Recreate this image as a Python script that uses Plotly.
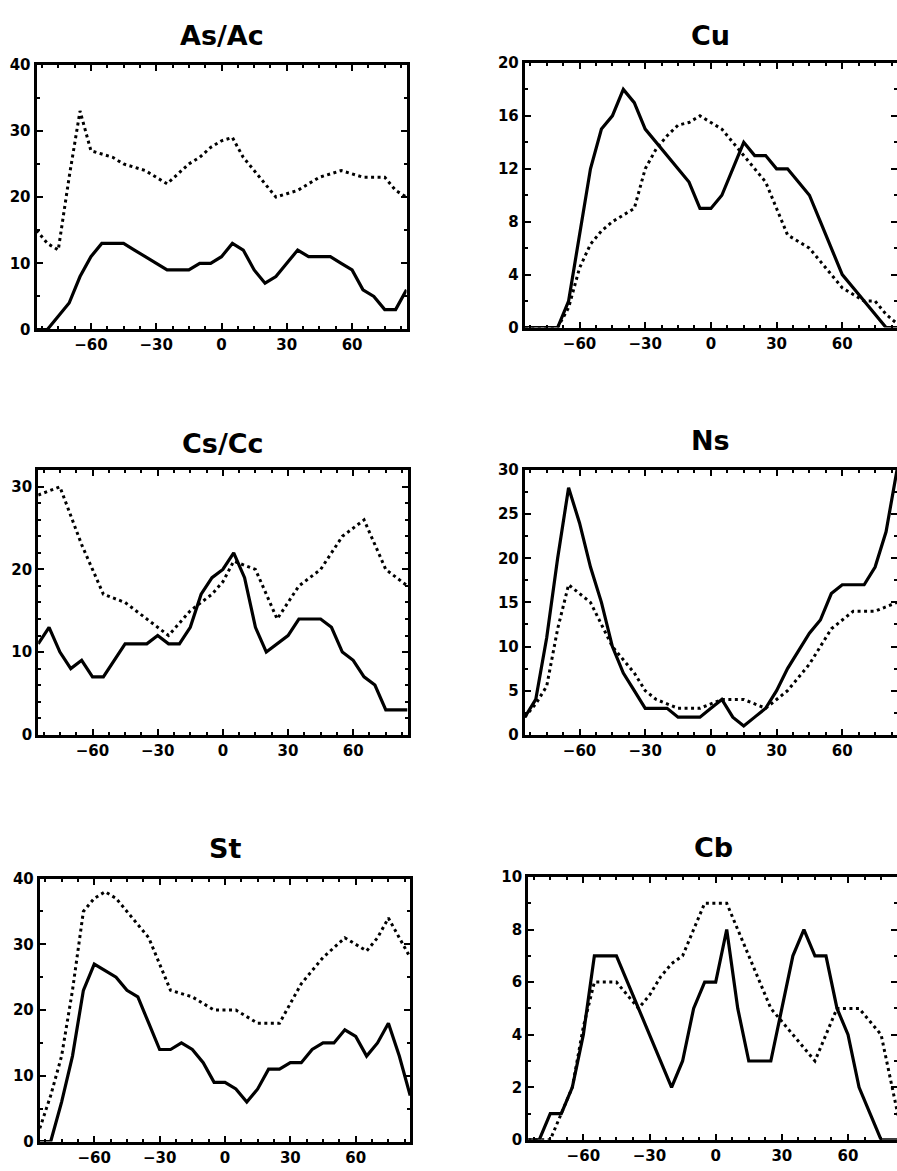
import plotly.graph_objects as go

# Latitude bins (degrees)
LAT = [-85, -80, -75, -70, -65, -60, -55, -50, -45, -40, -35, -30, -25, -20, -15, -10, -5,
       0, 5, 10, 15, 20, 25, 30, 35, 40, 45, 50, 55, 60, 65, 70, 75, 80, 85]

# Cloud-type frequency (%) per latitude: set1 = solid line, set2 = dotted line
as_ac_set1 = [0, 0, 2, 4, 8, 11, 13, 13, 13, 12, 11, 10, 9, 9, 9, 10, 10,
              11, 13, 12, 9, 7, 8, 10, 12, 11, 11, 11, 10, 9, 6, 5, 3, 3, 6]
as_ac_set2 = [15, 13, 12, 23, 33, 27, 26.5, 26, 25, 24.5, 24, 23, 22, 23.5, 25, 26, 27.5,
              28.5, 29, 26, 24, 22, 20, 20.5, 21, 22, 23, 23.5, 24, 23.5, 23, 23, 23, 21, 20]

cu_set1 = [0, 0, 0, 0, 2, 7, 12, 15, 16, 18, 17, 15, 14, 13, 12, 11, 9,
           9, 10, 12, 14, 13, 13, 12, 12, 11, 10, 8, 6, 4, 3, 2, 1, 0, 0]
cu_set2 = [0, 0, 0, 0, 1.5, 4.5, 6.3, 7.3, 8, 8.5, 9, 12, 13.5, 14.5, 15.3, 15.5, 16,
           15.5, 15, 14, 13, 12, 11, 9, 7, 6.5, 6, 5, 4, 3, 2.5, 2, 2, 1, 0.3]

cs_cc_set1 = [11, 13, 10, 8, 9, 7, 7, 9, 11, 11, 11, 12, 11, 11, 13, 17, 19,
              20, 22, 19, 13, 10, 11, 12, 14, 14, 14, 13, 10, 9, 7, 6, 3, 3, 3]
cs_cc_set2 = [29, 29.5, 30, 26.5, 23, 20, 17, 16.5, 16, 15, 14, 13, 12, 13.5, 15, 16, 17,
              18.5, 21, 20.5, 20, 17, 14, 16, 18, 19, 20, 22, 24, 25, 26, 23, 20, 19, 18]

ns_set1 = [2, 4, 11, 20, 28, 24, 19, 15, 10, 7, 5, 3, 3, 3, 2, 2, 2,
           3, 4, 2, 1, 2, 3, 5, 7.5, 9.5, 11.5, 13, 16, 17, 17, 17, 19, 23, 30]
ns_set2 = [2, 3.5, 5.5, 12, 17, 16, 15, 12.5, 10, 8.5, 7, 5, 4, 3.5, 3, 3, 3,
           3.5, 4, 4, 4, 3.5, 3, 4, 5, 6.5, 8, 10, 12, 13, 14, 14, 14, 14.5, 15]

st_set1 = [0, 0, 6, 13, 23, 27, 26, 25, 23, 22, 18, 14, 14, 15, 14, 12, 9,
           9, 8, 6, 8, 11, 11, 12, 12, 14, 15, 15, 17, 16, 13, 15, 18, 13, 7]
st_set2 = [2, 7, 13, 23, 35, 37, 38, 37, 35, 33, 31, 27, 23, 22.5, 22, 21, 20,
           20, 20, 19, 18, 18, 18, 21, 24, 26, 28, 29.5, 31, 30, 29, 31, 34, 31, 28]

cb_set1 = [0, 0, 1, 1, 2, 4, 7, 7, 7, 6, 5, 4, 3, 2, 3, 5, 6,
           6, 8, 5, 3, 3, 3, 5, 7, 8, 7, 7, 5, 4, 2, 1, 0, 0, 0]
cb_set2 = [0, 0, 0, 1, 2, 4.3, 6, 6, 6, 5.5, 5, 5.5, 6.2, 6.7, 7, 8, 9,
           9, 9, 8, 7, 6, 5, 4.5, 4, 3.5, 3, 4, 5, 5, 5, 4.5, 4, 2, 0]

X_TICKS = [-60, -30, 0, 30, 60]

W, H = 897, 1171

# name, set1, set2, y max, y major step, y minor step, box (left, top, right, bottom) in px,
# x max, whether the right frame edge falls off the page
panels = [
    ("As/Ac", as_ac_set1, as_ac_set2, 40, 10, 5, (35, 55, 408, 327), 85, False),
    ("Cu", cu_set1, cu_set2, 20, 4, 2, (523.3, 53.3, 898.5, 325), 85, True),
    ("Cs/Cc", cs_cc_set1, cs_cc_set2, 32, 10, 2, (36.7, 467, 409, 738.5), 85, False),
    ("Ns", ns_set1, ns_set2, 30, 5, 2.5, (523.3, 466.7, 898.5, 738.6), 85, True),
    ("St", st_set1, st_set2, 40, 10, 5, (38.3, 881.7, 411.7, 1151.7), 85, False),
    ("Cb", cb_set1, cb_set2, 10, 2, 1, (526.7, 880, 898.5, 1150), 82.2, True),
]

title_pos = [(221.5, 26.5), (710, 26.5), (223, 441.7), (710, 438.3), (225, 852.5), (713, 851.7)]

LW = 3
tick_font = dict(family="DejaVu Sans", size=15, color="black", weight="bold")
major = dict(ticks="inside", ticklen=6, tickwidth=1.5, tickcolor="black")
minor_style = dict(ticks="inside", ticklen=3, tickwidth=1.5, tickcolor="black")

fig = go.Figure()
layout = dict(
    width=W, height=H,
    margin=dict(l=0, r=0, t=0, b=0),
    paper_bgcolor="white", plot_bgcolor="white",
    showlegend=False,
    annotations=[],
)

extra = 7
for i, (name, s1, s2, ymax, ymaj, ymin_step, box, xmax, open_right) in enumerate(panels):
    n = "" if i == 0 else str(i + 1)
    left, top, right, bottom = box
    half = LW / 2
    xd = [(left + half) / W, min((right - half) / W, 1.0)]
    yd = [1 - (bottom - half) / H, 1 - (top + half) / H]

    fig.add_trace(go.Scatter(x=LAT, y=s2, mode="lines", xaxis="x" + n, yaxis="y" + n,
                             line=dict(color="black", width=3, dash="3px,3.5px")))
    fig.add_trace(go.Scatter(x=LAT, y=s1, mode="lines", xaxis="x" + n, yaxis="y" + n,
                             line=dict(color="black", width=3.2)))

    layout["xaxis" + n] = dict(
        domain=xd, anchor="y" + n, range=[-85, xmax],
        showline=True, linewidth=LW, linecolor="black", mirror="ticks",
        tickvals=X_TICKS, minor=dict(dtick=7.5, tick0=0, **minor_style),
        showgrid=False, zeroline=False, tickfont=tick_font, **major,
    )
    layout["yaxis" + n] = dict(
        domain=yd, anchor="x" + n, range=[0, ymax],
        showline=True, linewidth=LW, linecolor="black",
        mirror=False if open_right else "ticks",
        tick0=0, dtick=ymaj, minor=dict(dtick=ymin_step, tick0=0, **minor_style),
        showgrid=False, zeroline=False, tickfont=tick_font, **major,
    )
    if open_right:
        # right-hand ticks only; the frame line itself sits past the page edge
        ya = "y" + str(extra)
        layout["yaxis" + str(extra)] = dict(
            overlaying="y" + n, anchor="x" + n, side="right", range=[0, ymax],
            showline=False, showticklabels=False,
            tick0=0, dtick=ymaj, minor=dict(dtick=ymin_step, tick0=0, **minor_style),
            showgrid=False, zeroline=False, **major,
        )
        fig.add_trace(go.Scatter(x=[None], y=[None], mode="lines", xaxis="x" + n, yaxis=ya,
                                 hoverinfo="skip"))
        extra += 1

    tx, ty = title_pos[i]
    layout["annotations"].append(dict(
        text=name, x=tx / W, y=1 - ty / H, xref="paper", yref="paper",
        xanchor="center", yanchor="middle", showarrow=False,
        font=dict(family="DejaVu Sans", size=27, color="black", weight="bold"),
    ))

fig.update_layout(**layout)
fig.write_html("out.html")
